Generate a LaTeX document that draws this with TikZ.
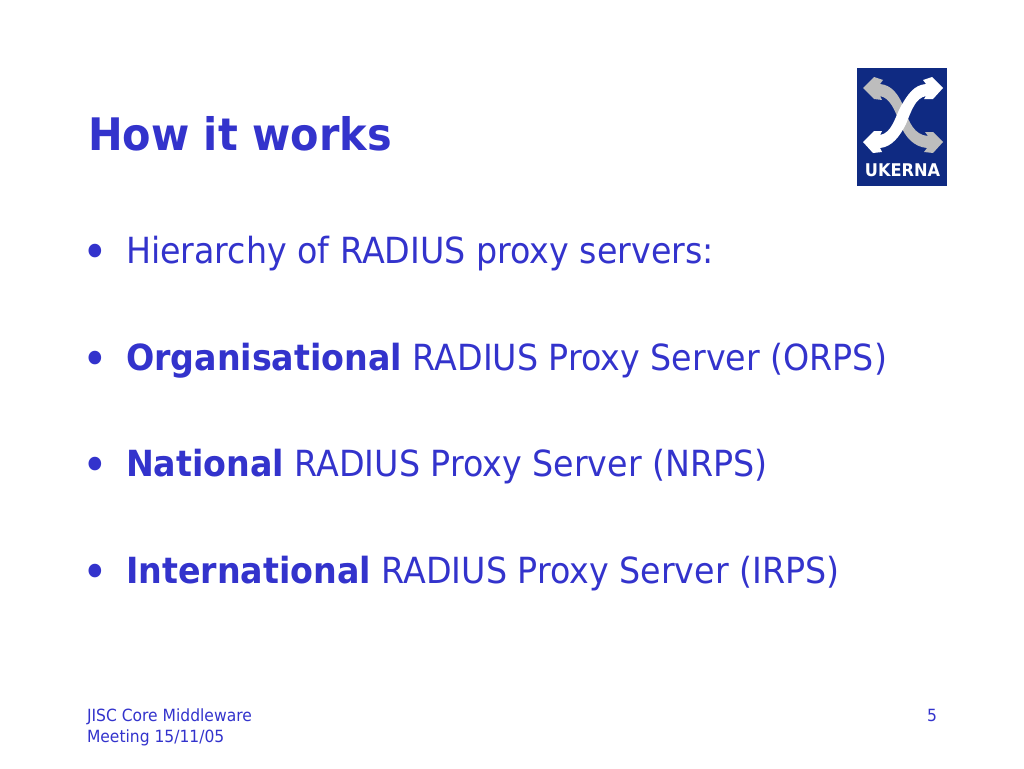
\documentclass[tikz,border=0pt]{standalone}
\usepackage{fontspec}
\setmainfont{DejaVu Sans}[FakeStretch=0.925,BoldFeatures={FakeStretch=0.925}]
\definecolor{slideblue}{HTML}{3333CC}
\definecolor{logoblue}{HTML}{0F2A82}
\definecolor{logogrey}{HTML}{BDBDBD}
\tikzset{
    slidetext/.style={anchor=base west,inner sep=0pt,outer sep=0pt,text=slideblue},
    heading/.style={slidetext,font=\fontsize{44.8}{54}\selectfont\bfseries},
    itemtext/.style={slidetext,font=\fontsize{36}{43}\selectfont},
    itemdot/.style={slidetext,font=\fontsize{47}{54}\selectfont},
    footertext/.style={slidetext,font=\fontsize{16.8}{21}\selectfont}
}
\begin{document}
\begin{tikzpicture}[x=1pt,y=-1pt]
    \useasboundingbox (0,0) rectangle (1024,768);
    \node[heading] (title) at (88,150) {How it works};

    \node[itemdot] (dota) at (82,268) {•};
    \node[itemtext] (itema) at (126,263.5) {Hierarchy of RADIUS proxy servers:};
    \node[itemdot] (dotb) at (82,375) {•};
    \node[itemtext] (itemb) at (126,370) {\textbf{Organisational} RADIUS Proxy Server (ORPS)};
    \node[itemdot] (dotc) at (82,481) {•};
    \node[itemtext] (itemc) at (126,476) {\textbf{National} RADIUS Proxy Server (NRPS)};
    \node[itemdot] (dotd) at (82,588) {•};
    \node[itemtext] (itemd) at (126,583) {\textbf{International} RADIUS Proxy Server (IRPS)};

    \node[footertext] (footera) at (87,721) {JISC Core Middleware};
    \node[footertext] (footerb) at (87,742) {Meeting 15/11/05};
    \node[footertext] (pagenum) at (927,721) {5};

    % logo
    \fill[logoblue] (857,68) rectangle (947,186);
    \fill[logogrey] (863,88) -- (874,77) -- (883,80) -- (880,84)
        .. controls (892,85) and (899,95) .. (904,108)
        .. controls (909,122) and (914,135) .. (928,136)
        -- (925,132) -- (933,132) -- (943,142) -- (933,153) -- (924,152) -- (927,148)
        .. controls (914,147) and (905,137) .. (900,124)
        .. controls (895,110) and (890,98) .. (880,96)
        -- (882,100) -- (874,99) -- cycle;
    \fill[white] (943,88) -- (932,77) -- (923,80) -- (926,84)
        .. controls (914,85) and (908,94) .. (901,106)
        .. controls (895,117) and (892,133) .. (880,135)
        -- (882,131) -- (874,131) -- (863,142) -- (873,153) -- (882,152) -- (880,148)
        .. controls (892,147) and (900,136) .. (906,124)
        .. controls (911,112) and (915,98) .. (926,96)
        -- (924,99) -- (933,99) -- cycle;
    \node[anchor=base,inner sep=0pt,text=white,font=\fontsize{17.5}{21}\selectfont\bfseries] (logoname) at (902.5,176) {UKERNA};
\end{tikzpicture}
\end{document}
